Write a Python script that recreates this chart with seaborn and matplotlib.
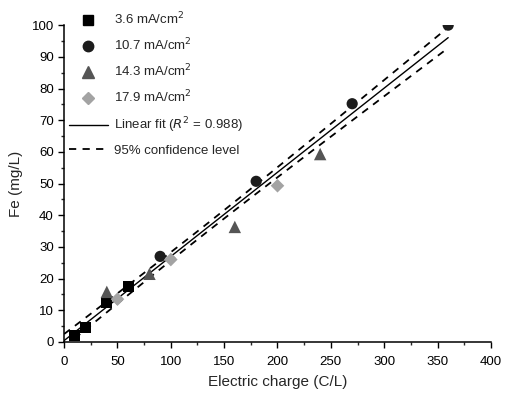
import numpy as np
import pandas as pd
import matplotlib
matplotlib.use('Agg')
import matplotlib.pyplot as plt
import seaborn as sns
from matplotlib.lines import Line2D
from matplotlib.ticker import MultipleLocator

# data
charge_36 = [10, 20, 40, 60]
fe_36 = [2.0, 4.5, 12.5, 17.5]
charge_107 = [90, 180, 270, 360]
fe_107 = [27.0, 50.7, 75.2, 100.0]
charge_143 = [40, 80, 160, 240]
fe_143 = [15.8, 21.5, 36.3, 59.3]
charge_179 = [50, 100, 200]
fe_179 = [13.5, 26.0, 49.3]

labels = ['3.6 mA/cm$^2$', '10.7 mA/cm$^2$', '14.3 mA/cm$^2$', '17.9 mA/cm$^2$']
colors = ['#000000', '#1c1c1c', '#555555', '#a3a3a3']
markers = ['s', 'o', '^', 'D']
sizes = [60, 65, 80, 48]

frames = []
for lab, xs, ys in zip(labels, [charge_36, charge_107, charge_143, charge_179],
                       [fe_36, fe_107, fe_143, fe_179]):
    frames.append(pd.DataFrame({'charge': xs, 'fe': ys, 'density': lab}))
df = pd.concat(frames, ignore_index=True)

# linear fit and confidence band
x = df['charge'].values
y = df['fe'].values
n = len(x)
slope, intercept = np.polyfit(x, y, 1)
resid = y - (slope * x + intercept)
s = np.sqrt(np.sum(resid ** 2) / (n - 2))
t = 1.45
xx = np.linspace(0, 360, 100)
yy = slope * xx + intercept
se = s * np.sqrt(1 / n + (xx - x.mean()) ** 2 / np.sum((x - x.mean()) ** 2))

sns.set_style('ticks')
plt.rcParams['font.family'] = ['Liberation Sans', 'DejaVu Sans']

fig = plt.figure(figsize=(5.05, 3.93), dpi=100)
ax = fig.add_axes([0.127, 0.130, 0.845, 0.806])

dash = (0, (4, 3.5))
ax.plot(xx, yy, color='black', lw=1.0, zorder=1)
ax.plot(xx, yy + t * se, color='black', lw=1.3, ls=dash, zorder=1)
ax.plot(xx, yy - t * se, color='black', lw=1.3, ls=dash, zorder=1)

for lab, c, m, sz in zip(labels, colors, markers, sizes):
    sub = df[df['density'] == lab]
    sns.scatterplot(data=sub, x='charge', y='fe', color=c, marker=m, s=sz,
                    edgecolor='none', ax=ax, zorder=3, legend=False, clip_on=True)

ax.set_xlim(0, 400)
ax.set_ylim(0, 100)
ax.xaxis.set_major_locator(MultipleLocator(50))
ax.xaxis.set_minor_locator(MultipleLocator(25))
ax.yaxis.set_major_locator(MultipleLocator(10))
ax.yaxis.set_minor_locator(MultipleLocator(5))
ax.tick_params(which='major', direction='out', length=4, width=1, labelsize=9.5, colors='black')
ax.tick_params(which='minor', direction='out', length=2.5, width=1)
ax.tick_params(axis='x', pad=6)
for sp in ['left', 'bottom']:
    ax.spines[sp].set_linewidth(1.1)
    ax.spines[sp].set_color('black')
sns.despine(ax=ax)
ax.set_xlabel('Electric charge (C/L)', fontsize=11, labelpad=5)
ax.set_ylabel('Fe (mg/L)', fontsize=11, labelpad=6)

handles = [Line2D([], [], ls='none', marker=m, color=c, markersize=ms)
           for m, c, ms in zip(markers, colors, [7, 7.5, 8, 6.5])]
handles.append(Line2D([], [], color='black', lw=1.0))
handles.append(Line2D([], [], color='black', lw=1.3, ls=dash))
leg_labels = labels + ['Linear fit ($R^2$ = 0.988)', '95% confidence level']
ax.legend(handles, leg_labels, loc='upper left', bbox_to_anchor=(-0.008, 1.07),
          frameon=False, fontsize=9.5, handlelength=3.0, handletextpad=0.45,
          labelspacing=0.72, borderaxespad=0.2)

fig.savefig('out.png', dpi=100)
